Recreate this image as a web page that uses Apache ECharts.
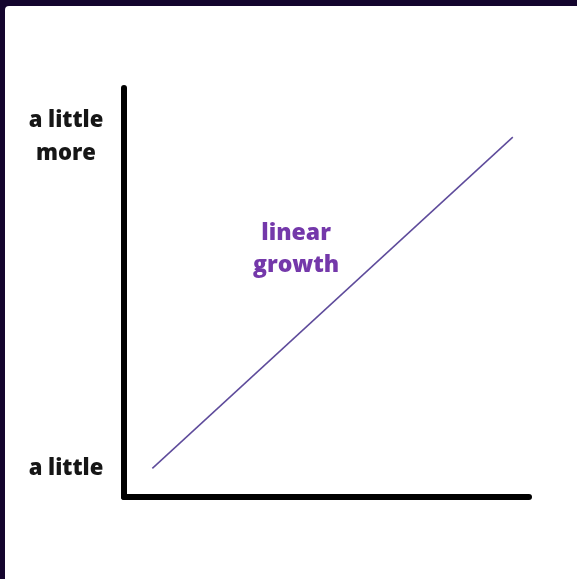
<!DOCTYPE html>
<html>
<head>
<meta charset="utf-8">
<script src="https://cdn.jsdelivr.net/npm/echarts@6/dist/echarts.min.js"></script>
<style>
  html, body { margin: 0; padding: 0; background: #ffffff; }
  #frame { position: absolute; left: 0; top: 0; width: 577px; height: 579px; background: #14052e; }
  #chart { position: absolute; left: 5px; top: 6px; width: 572px; height: 573px; background: #ffffff; border-top-left-radius: 4px; }
</style>
</head>
<body>
<div id="frame"><div id="chart"></div></div>
<script>
// Data
const xValues = [7, 96];
const yValues = [7, 88];
const yTickValues = [7, 88];
const yTickLabels = ['a little', 'a little\nmore'];
const annotationText = 'linear\ngrowth';

const chart = echarts.init(document.getElementById('chart'), null, { renderer: 'canvas' });

const lineData = xValues.map((x, i) => [x, yValues[i]]);

chart.setOption({
  animation: false,
  grid: { left: 119, right: 48, top: 82, bottom: 82, containLabel: false },
  xAxis: {
    type: 'value', min: 0, max: 100,
    axisLine: { show: true, lineStyle: { color: '#000', width: 6 } },
    axisTick: { show: false }, axisLabel: { show: false }, splitLine: { show: false }
  },
  yAxis: {
    type: 'value', min: 0, max: 100, interval: 1,
    axisLine: { show: true, lineStyle: { color: '#000', width: 6 } },
    axisTick: { show: false }, splitLine: { show: false },
    axisLabel: {
      show: true,
      margin: 58,
      align: 'center',
      verticalAlign: 'middle',
      padding: [5, 0, 0, 0],
      fontFamily: 'Open Sans',
      fontWeight: 800,
      fontSize: 22,
      lineHeight: 33,
      color: '#161616',
      formatter: function (v) {
        const idx = yTickValues.indexOf(v);
        return idx >= 0 ? yTickLabels[idx] : '';
      }
    }
  },
  series: [{
    type: 'line',
    data: lineData,
    symbol: 'none',
    lineStyle: { color: '#5e4b9b', width: 1.5 },
    markPoint: {
      symbol: 'circle', symbolSize: 0,
      data: [{ coord: [42.5, 60.5], value: annotationText }],
      label: {
        show: true,
        position: 'inside',
        formatter: annotationText,
        fontFamily: 'Open Sans',
        fontWeight: 800,
        fontSize: 23,
        lineHeight: 32,
        align: 'center',
        color: '#7438aa'
      }
    }
  }]
});
</script>
</body>
</html>
